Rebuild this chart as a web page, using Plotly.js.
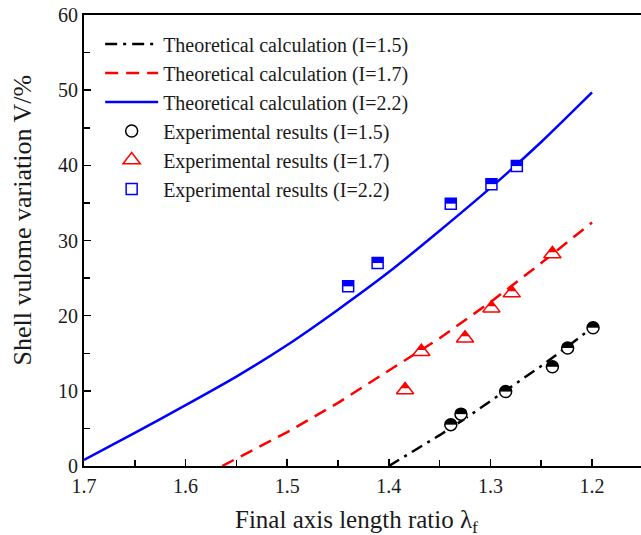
<!DOCTYPE html>
<html>
<head>
<meta charset="utf-8">
<script src="https://cdn.plot.ly/plotly-3.0.1.min.js"></script>
<style>html,body{margin:0;padding:0;background:#fff;}#chart{width:641px;height:535px;}</style>
</head>
<body>
<div id="chart"></div>
<script>
// ---- data ----
var theoLambda15 = [1.4, 1.375, 1.35, 1.325, 1.3, 1.275, 1.25, 1.225, 1.2];
var theoV15      = [0, 2.0, 4.1, 6.3, 8.6, 10.9, 13.3, 15.8, 18.4];
var theoLambda17 = [1.564, 1.55, 1.5, 1.45, 1.4, 1.35, 1.3, 1.25, 1.2];
var theoV17      = [0, 1.0, 4.5, 8.4, 12.7, 17.0, 21.8, 27.0, 32.4];
var theoLambda22 = [1.7, 1.65, 1.6, 1.55, 1.5, 1.45, 1.4, 1.35, 1.3, 1.25, 1.2];
var theoV22      = [0.8, 4.4, 8.1, 11.9, 16.1, 20.8, 25.8, 31.3, 37.0, 43.1, 49.7];

var expLambda15 = [1.339, 1.329, 1.285, 1.239, 1.224, 1.199];
var expV15      = [5.5, 6.9, 9.9, 13.2, 15.7, 18.4];
var expLambda17 = [1.384, 1.368, 1.325, 1.299, 1.279, 1.239];
var expV17      = [10.1, 15.2, 17.0, 21.0, 23.0, 28.2];
var expLambda22 = [1.440, 1.411, 1.339, 1.299, 1.274];
var expV22      = [23.9, 27.0, 34.9, 37.5, 39.9];

var seriesNames = [
  'Theoretical calculation (I=1.5)',
  'Theoretical calculation (I=1.7)',
  'Theoretical calculation (I=2.2)',
  'Experimental results (I=1.5)',
  'Experimental results (I=1.7)',
  'Experimental results (I=2.2)'
];
var xTickVals = [1.7, 1.6, 1.5, 1.4, 1.3, 1.2];
var xTickText = ['1.7', '1.6', '1.5', '1.4', '1.3', '1.2'];
var yTickVals = [0, 10, 20, 30, 40, 50, 60];
var yRange = [0, 60];
var xRange = [1.7, 1.1518];

// ---- styles / geometry ----
var BLACK = '#000000', RED = '#ff0000', BLUE = '#0000ff', WHITE = '#ffffff';
var serif = 'Liberation Serif, Times New Roman, serif';
var W = 641, H = 535, M = {l: 84, r: 0, t: 15, b: 69};
var unitsPerPx = (yRange[1] - yRange[0]) / (H - M.t - M.b);
// overlay axis whose range is shifted so markers appear moved by `px` pixels (positive = up)
function shiftedAxis(px) {
  var d = px * unitsPerPx;
  return {overlaying: 'y', range: [yRange[0] - d, yRange[1] - d], autorange: false,
          visible: false, showgrid: false, zeroline: false, fixedrange: true};
}

var circleSize = 12, triSize = 15, sqSize = 11;

var traces = [
  {x: theoLambda15, y: theoV15, mode: 'lines', name: seriesNames[0], legendgroup: 'g1',
   line: {color: BLACK, width: 2.5, dash: '12px,6px,3px,6px'}},
  {x: theoLambda17, y: theoV17, mode: 'lines', name: seriesNames[1], legendgroup: 'g2',
   line: {color: RED, width: 2.5, dash: '13px,8px'}},
  {x: theoLambda22, y: theoV22, mode: 'lines', name: seriesNames[2], legendgroup: 'g3',
   line: {color: BLUE, width: 2.5, shape: 'spline', smoothing: 0.6}},

  // I=1.5 : circle with upper half black  (black disc, white lower half, outline)
  {x: expLambda15, y: expV15, mode: 'markers', showlegend: false, legendgroup: 'g4', hoverinfo: 'skip',
   marker: {symbol: 'circle', size: circleSize, color: BLACK, line: {width: 0}}},
  {x: expLambda15, y: expV15, yaxis: 'y2', mode: 'markers', showlegend: false, legendgroup: 'g4', hoverinfo: 'skip',
   marker: {symbol: 'line-ew', size: circleSize / 1.4, color: WHITE, line: {color: WHITE, width: circleSize / 2}}},
  {x: expLambda15, y: expV15, yaxis: 'y3', mode: 'markers', name: seriesNames[3], legendgroup: 'g4',
   marker: {symbol: 'circle', size: circleSize, color: 'rgba(0,0,0,0)', line: {color: BLACK, width: 1.5}}},

  // I=1.7 : triangle with upper half red
  {x: expLambda17, y: expV17, mode: 'markers', name: seriesNames[4], legendgroup: 'g5',
   marker: {symbol: 'triangle-up', size: triSize, color: WHITE, line: {color: RED, width: 1.5}}},
  {x: expLambda17, y: expV17, yaxis: 'y4', mode: 'markers', showlegend: false, legendgroup: 'g5', hoverinfo: 'skip',
   marker: {symbol: 'triangle-up', size: triSize / 2, color: RED, line: {width: 0}}},

  // I=2.2 : square with upper half blue
  {x: expLambda22, y: expV22, mode: 'markers', name: seriesNames[5], legendgroup: 'g6',
   marker: {symbol: 'square', size: sqSize, color: WHITE, line: {color: BLUE, width: 1.5}}},
  {x: expLambda22, y: expV22, yaxis: 'y5', mode: 'markers', showlegend: false, legendgroup: 'g6', hoverinfo: 'skip',
   marker: {symbol: 'line-ew', size: sqSize / 1.4, color: BLUE, line: {color: BLUE, width: sqSize / 2}}}
];

var layout = {
  width: W, height: H,
  margin: M,
  paper_bgcolor: '#ffffff', plot_bgcolor: '#ffffff',
  font: {family: serif, color: '#1a1a1a', size: 20},
  showlegend: true,
  legend: {
    x: 0.029, y: 0.979, xanchor: 'left', yanchor: 'top',
    bgcolor: 'rgba(0,0,0,0)', borderwidth: 0,
    font: {family: serif, size: 20, color: '#1a1a1a'},
    traceorder: 'grouped', tracegroupgap: 0, itemwidth: 53
  },
  xaxis: {
    range: xRange, autorange: false,
    tickmode: 'array', tickvals: xTickVals, ticktext: xTickText,
    ticks: 'inside', ticklen: 7, tickwidth: 1.5, tickcolor: '#000',
    minor: {dtick: 0.05, tick0: 1.7, ticks: 'inside', ticklen: 6, tickwidth: 1.5, tickcolor: '#000'},
    showline: true, linecolor: '#000', linewidth: 2, mirror: true,
    showgrid: false, zeroline: false,
    tickfont: {family: serif, size: 20, color: '#1a1a1a'},
    ticklabelstandoff: 1
  },
  yaxis: {
    range: yRange, autorange: false,
    tickmode: 'array', tickvals: yTickVals,
    ticks: 'inside', ticklen: 7, tickwidth: 1.5, tickcolor: '#000',
    minor: {dtick: 5, tick0: 0, ticks: 'inside', ticklen: 6, tickwidth: 1.5, tickcolor: '#000'},
    showline: true, linecolor: '#000', linewidth: 2, mirror: false,
    showgrid: false, zeroline: false,
    tickfont: {family: serif, size: 20, color: '#1a1a1a'},
    ticklabelstandoff: 0
  },
  yaxis2: shiftedAxis(-circleSize / 4),   // white lower-half cover, moved down
  yaxis3: shiftedAxis(0),                 // circle outlines above the cover
  yaxis4: shiftedAxis(triSize / 4),       // small filled triangle, moved up
  yaxis5: shiftedAxis(sqSize / 4),        // filled upper half of square, moved up
  annotations: [
    {text: 'Shell vulome variation V/%', xref: 'paper', yref: 'paper',
     x: -0.111, y: 0.545, xanchor: 'center', yanchor: 'middle', textangle: -90,
     showarrow: false, font: {family: serif, size: 26, color: '#1a1a1a'}},
    {text: 'Final axis length ratio λ<sub>f</sub>', xref: 'paper', yref: 'paper',
     x: 0.49, y: -0.122, xanchor: 'center', yanchor: 'middle',
     showarrow: false, font: {family: serif, size: 25, color: '#1a1a1a'}}
  ]
};

Plotly.newPlot('chart', traces, layout, {displayModeBar: false, staticPlot: true});
</script>
</body>
</html>
